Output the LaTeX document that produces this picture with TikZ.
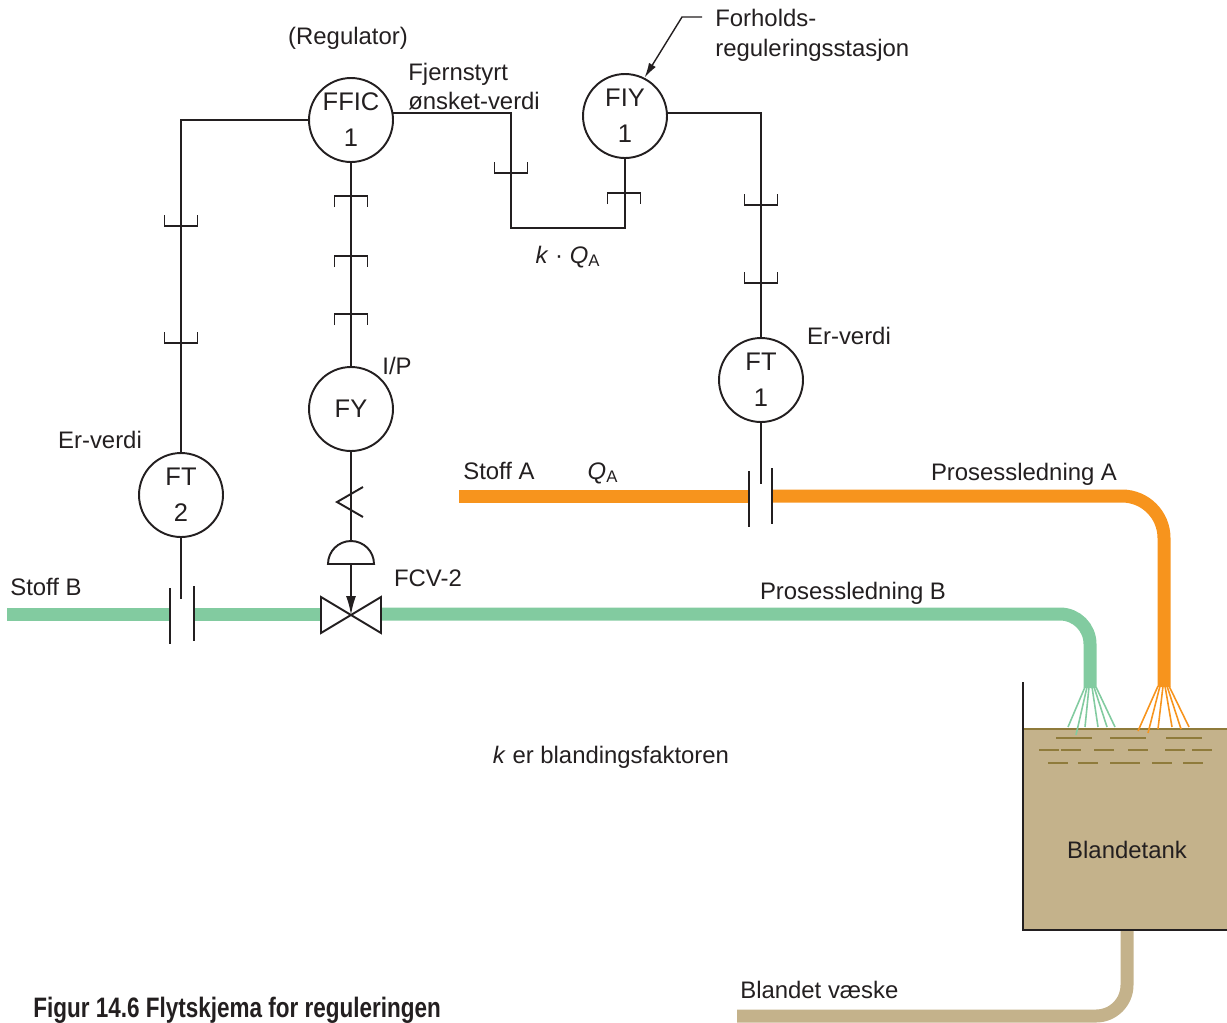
\documentclass[tikz,border=0pt]{standalone}
\usepackage{fontspec}
\setmainfont{Liberation Sans}
\newfontfamily\capfont[FakeStretch=0.8]{Liberation Sans}
\usetikzlibrary{arrows.meta}

\definecolor{pipeA}{HTML}{F7941D}
\definecolor{pipeB}{HTML}{82CBA0}
\definecolor{liquid}{HTML}{C4B28B}
\definecolor{ripple}{HTML}{8F7B3B}
\definecolor{ink}{HTML}{231F20}

\tikzset{
	sig/.style={ink, line width=1.1pt},
	instr/.style={circle, draw=ink, line width=1.1pt, minimum size=1.68cm, inner sep=0pt, align=center, text=ink, font=\fontsize{14.5}{20.5}\selectfont},
	lbl/.style={inner sep=0pt, text=ink, font=\fontsize{13.6}{16.5}\selectfont},
	pipe/.style={line width=0.26cm},
	spray/.style={line width=0.9pt},
	sigup/.pic={\draw[sig] (-16.5,-11) -- (-16.5,0) -- (16.5,0) -- (16.5,-11);},
	sigdown/.pic={\draw[sig] (-16.5,11) -- (-16.5,0) -- (16.5,0) -- (16.5,11);},
}

\begin{document}
\begin{tikzpicture}[x=0.02cm, y=-0.02cm]
\useasboundingbox (0,0) rectangle (1227,1022);

% Process lines
\draw[pipe, pipeA] (459,496) -- (748,496);
\draw[pipe, pipeA, rounded corners=0.84cm] (773,496) -- (1164,496) -- (1164,687);
\draw[pipe, pipeB] (7,614) -- (170,614);
\draw[pipe, pipeB] (194,614) -- (321,614);
\draw[pipe, pipeB, rounded corners=0.6cm] (381,614) -- (1090,614) -- (1090,688);
\draw[pipe, liquid, rounded corners=0.62cm] (1127,930) -- (1127,1016) -- (737,1016);

% Tank with liquid
\fill[liquid] (1023,729) rectangle (1227,930);
\draw[ripple, line width=1.3pt] (1023,729) -- (1227,729);
\foreach \a/\b/\y in {1056/1092/738, 1110/1146/738, 1166/1202/738,
	1039/1059/750, 1061/1081/750, 1094/1114/750, 1128/1148/750, 1165/1185/750, 1192/1212/750,
	1048/1068/763, 1078/1098/763, 1110/1140/763, 1152/1172/763, 1183/1203/763}
	\draw[ripple, line width=1.2pt] (\a,\y) -- (\b,\y);
\draw[ink, line width=1.1pt] (1023,682) -- (1023,930) -- (1227,930);

% Inlet sprays
\foreach \s/\e/\y in {1085/1068/727, 1087/1076/735, 1089/1085/727, 1092/1098/727, 1094/1107/727, 1096/1115/727}
	\draw[spray, pipeB] (\s,687) -- (\e,\y);
\foreach \s/\e/\y in {1158/1138/731, 1160/1148/733, 1163/1158/729, 1165/1172/727, 1167/1181/729, 1169/1189/727}
	\draw[spray, pipeA] (\s,686) -- (\e,\y);

% Instruments
\node[instr] (ffic) at (351,120) {FFIC\\1};
\node[instr] (fiy) at (625,116) {FIY\\1};
\node[instr] (ft1) at (761,380) {FT\\1};
\node[instr] (fy) at (351,409) {FY};
\node[instr] (ft2) at (181,495) {FT\\2};

% Orifice plates
\draw[sig] (749,471) -- (749,527);
\draw[sig] (772,468) -- (772,524);
\draw[sig] (170,588) -- (170,644);
\draw[sig] (194,586) -- (194,641);
\coordinate (tapA) at (761,484);
\coordinate (tapB) at (181,599);

% Control valve FCV-2
\coordinate (valve) at (351,615);
\coordinate (act) at (351,564);
\coordinate (dome) at (351,541);
\draw[sig, fill=white] (321,597) -- (381,633) -- (381,597) -- (321,633) -- cycle;
\draw[sig, fill=white] (328,564) arc (180:360:23) -- cycle;
\draw[sig, -{Latex[length=0.38cm, width=0.2cm]}] (act) -- (valve);

% Signal lines
\coordinate (kq) at (511,228);
\draw[sig] (ffic.west) -| (ft2.north);
\draw[sig] (ffic.10) -| (kq) -| (fiy.south);
\draw[sig] (fiy.4) -| (ft1.north);
\draw[sig] (ffic.south) -- (fy.north);
\draw[sig] (fy.south) -- (dome);
\draw[sig] (363,487) -- (337,502) -- (363,517);
\draw[sig] (ft1.south) -- (tapA);
\draw[sig] (ft2.south) -- (tapB);

% Electric signal marks
\foreach \p in {(181,226), (181,343), (511,173), (761,205), (761,283)}
	\pic at \p {sigup};
\foreach \p in {(351,196), (351,256), (351,314), (624,193)}
	\pic at \p {sigdown};

% Labels
\node[lbl, anchor=base] (reg) at (348,44) {(Regulator)};
\node[lbl, anchor=base west] (fjern) at (408,80) {Fjernstyrt};
\node[lbl, anchor=base west] (onsk) at (408,109) {ønsket-verdi};
\node[lbl, anchor=base west] (forh) at (715,26) {Forholds-};
\node[lbl, anchor=base west] (stasj) at (715,56) {reguleringsstasjon};
\coordinate (lead) at (702,17);
\draw[sig, line width=0.8pt, -{Latex[length=0.3cm, width=0.16cm]}] (lead) -- (682,17) -- (fiy.63);
\node[lbl, anchor=base] (kqa) at (568,263) {\textit{k} · \textit{Q}\textsubscript{A}};
\node[lbl, anchor=base] (er1) at (849,344) {Er-verdi};
\node[lbl, anchor=base] (ip) at (397,374) {I/P};
\node[lbl, anchor=base] (er2) at (100,448) {Er-verdi};
\node[lbl, anchor=base] (stoffA) at (499,479) {Stoff A};
\node[lbl, anchor=base] (qa) at (603,479) {\textit{Q}\textsubscript{A}};
\node[lbl, anchor=base] (lineA) at (1024,480) {Prosessledning A};
\node[lbl, anchor=base] (stoffB) at (46,595) {Stoff B};
\node[lbl, anchor=base] (fcv) at (428,586) {FCV-2};
\node[lbl, anchor=base] (lineB) at (853,599) {Prosessledning B};
\node[lbl, anchor=base] (kfac) at (611,763) {\textit{k} er blandingsfaktoren};
\node[lbl, anchor=base] (tank) at (1127,858) {Blandetank};
\node[lbl, anchor=base west] (mix) at (740,998) {Blandet væske};
\node[anchor=base west, inner sep=0pt, text=ink, font=\capfont\bfseries\fontsize{16}{18}\selectfont] (cap) at (33,1017) {Figur 14.6 Flytskjema for reguleringen};

\end{tikzpicture}
\end{document}
